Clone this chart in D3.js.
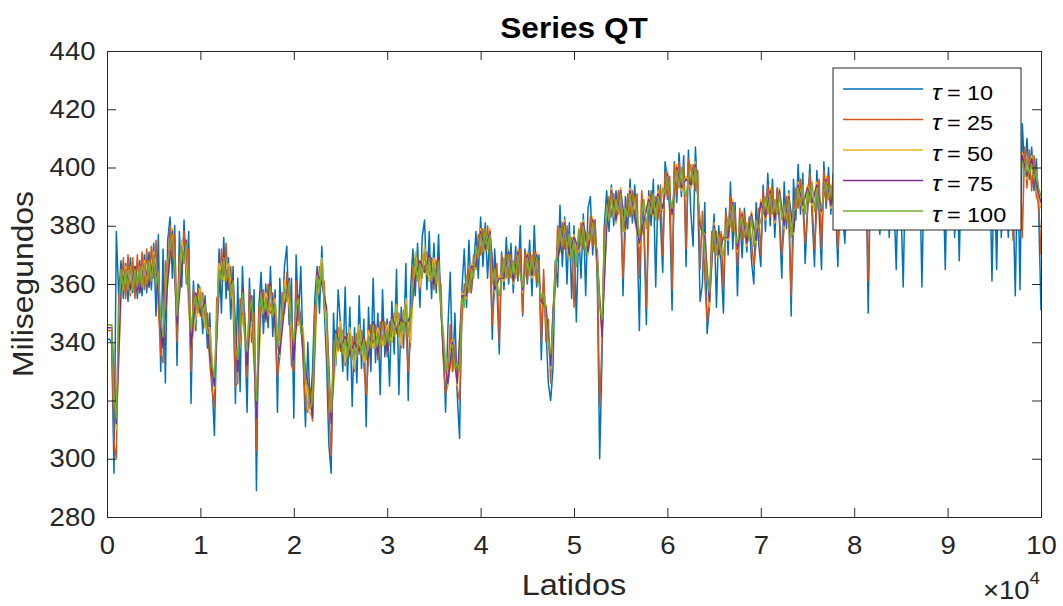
<!DOCTYPE html>
<html>
<head>
<meta charset="utf-8">
<script src="https://cdn.jsdelivr.net/npm/d3@7"></script>
<style>
  body { margin: 0; background: #fff; }
  svg { display: block; }
  text { font-family: "Liberation Sans", Arial, Helvetica, sans-serif; fill: #262626; }
</style>
</head>
<body>
<svg id="chart" width="1063" height="606"></svg>
<script>
// QT interval series (ms) per beat, smoothed with different windows tau.
// tau = 10, 25 and 100 are sampled every 250 beats, tau = 50 and 75 every 500 beats.
const fineStep = 250;
const coarseStep = 500;

const qtTau10 = [
  341,341,340,295,378,356,368,355,367,354,369,357,366,355,368,356,370,357,371,358,
  374,349,377,330,372,326,375,383,362,380,332,378,359,382,360,378,319,361,344,360,
  358,343,356,338,350,326,308,345,372,350,376,355,369,348,366,319,362,323,366,345,
  316,362,340,358,289,352,364,343,360,345,366,342,358,316,362,345,366,373,346,362,
  314,370,348,366,335,311,340,318,330,355,366,350,373,352,334,305,295,350,332,358,
  346,330,359,327,352,318,345,326,356,331,348,311,352,330,362,333,350,322,358,335,
  348,325,354,336,365,322,352,338,367,320,358,372,356,374,352,376,382,358,378,355,
  374,357,377,350,340,316,345,364,330,350,322,307,358,372,352,375,357,365,378,362,
  383,366,381,362,378,341,372,359,336,371,358,376,360,374,357,373,361,380,349,372,
  360,375,356,380,359,370,334,362,345,326,320,331,368,359,387,366,383,360,381,355,
  380,347,378,362,384,356,386,390,370,382,360,300,335,380,392,378,394,380,392,384,
  393,356,390,379,396,381,394,378,344,389,377,346,392,380,396,359,394,382,364,402,
  396,385,351,402,388,405,390,404,366,406,385,373,407,390,354,360,388,343,352,372,
  384,352,380,367,350,386,370,395,372,388,356,384,369,386,371,383,368,360,388,375,
  366,394,378,398,380,396,376,393,381,362,395,379,392,349,396,382,401,384,398,367,
  385,401,383,366,399,384,365,402,386,400,384,398,386,366,396,385,374,397,386,399,
  388,402,386,400,389,403,350,398,388,401,387,377,402,389,400,376,403,390,365,401,
  388,359,403,390,401,387,404,389,402,359,400,390,404,388,402,391,403,389,401,365,
  404,390,402,376,403,368,405,391,403,389,404,392,402,390,405,391,403,392,404,361,
  402,365,405,376,403,392,376,404,390,356,405,358,415,398,410,396,407,392,403,385,
  351
];

const qtTau25 = [
  344,344,344,305,300,356,357,369,355,370,356,369,355,370,357,371,358,372,359,373,
  362,375,352,336,333,368,362,380,369,377,340,370,365,378,366,372,330,358,348,358,
  349,357,345,350,333,324,318,355,357,372,362,374,358,366,352,325,326,355,349,350,
  328,358,346,350,303,352,349,358,347,360,350,357,344,328,335,357,350,364,352,332,
  330,361,346,350,334,318,316,324,313,352,356,366,360,361,342,318,301,340,335,345,
  337,344,332,343,335,342,330,343,336,344,332,322,334,346,338,346,334,347,339,347,
  335,347,340,350,343,350,338,351,345,330,341,366,361,369,358,370,364,371,361,369,
  358,368,360,360,334,322,326,346,330,339,324,320,347,360,355,365,357,370,365,377,
  370,379,371,380,369,346,358,367,340,370,361,370,362,370,360,370,362,372,350,371,
  361,371,362,371,361,368,340,365,340,348,326,352,358,380,371,381,372,380,369,376,
  352,374,371,381,372,378,370,383,373,382,364,318,340,380,379,390,383,391,381,392,
  383,362,378,391,383,392,382,391,362,392,381,352,380,392,383,390,382,394,370,398,
  389,397,358,401,391,402,392,401,372,403,393,401,392,399,365,385,362,347,355,378,
  371,378,369,378,358,385,375,390,378,385,366,386,375,384,373,382,375,366,374,386,
  370,392,382,394,383,393,381,392,383,370,379,390,381,356,378,393,386,396,386,374,
  385,398,387,372,386,396,372,399,388,397,386,396,388,372,386,396,380,397,388,398,
  389,399,388,400,389,400,361,399,389,401,390,399,389,400,390,401,389,400,390,401,
  388,400,390,401,389,402,390,401,391,402,389,401,390,402,391,401,390,402,391,401,
  390,402,391,401,390,402,392,401,391,402,390,401,392,402,391,403,392,402,391,403,
  392,402,391,403,392,402,391,403,375,402,391,403,376,407,393,406,392,404,390,388,
  370
];

const qtTau50 = [
  346,346,310,356,366,357,366,357,368,359,371,355,340,360,379,346,375,366,338,348,
  359,345,345,324,367,361,367,353,332,349,334,347,316,349,357,351,355,335,361,353,
  342,347,345,317,314,355,369,343,314,335,347,333,345,331,346,333,344,338,345,339,
  346,340,353,339,355,340,371,359,373,361,369,360,344,325,341,325,357,355,367,365,
  379,371,379,357,363,361,372,360,372,357,371,362,371,353,353,331,367,371,382,369,
  377,371,382,370,383,367,343,379,393,381,393,378,393,382,373,381,390,383,392,385,
  399,383,401,392,397,393,402,379,377,352,381,369,377,375,389,371,385,373,385,374,
  389,382,393,381,393,379,391,377,395,386,394,387,395,384,397,386,398,385,397,388,
  398,389,399,390,398,389,399,391,400,390,399,391,400,390,399,392,400,391,401,392,
  400,391,401,393,400,392,401,393,400,392,401,394,400,392,401,394,405,396,404,393,
  386
];

const qtTau75 = [
  345,345,312,358,365,358,366,357,367,359,370,356,338,361,378,346,366,375,338,357,
  350,354,336,325,358,370,358,362,330,358,332,356,314,358,348,360,346,336,352,362,
  334,356,336,326,314,364,360,352,312,344,338,342,336,340,337,342,335,347,336,348,
  337,349,344,348,346,349,362,368,364,370,360,369,336,326,340,326,356,356,366,366,
  378,372,378,358,362,362,371,361,371,358,370,363,370,354,352,332,366,372,381,370,
  376,372,381,371,382,368,342,380,392,382,392,379,392,383,374,382,389,384,391,386,
  398,384,400,393,396,394,401,380,376,354,380,370,376,376,388,372,384,374,384,375,
  388,383,392,382,392,380,390,378,394,387,393,388,394,385,396,387,397,386,396,389,
  397,390,398,391,397,390,398,392,399,391,398,392,399,391,398,393,399,392,400,393,
  399,392,400,394,399,393,400,394,399,393,400,395,399,393,400,395,404,397,403,394,
  388
];

const qtTau100 = [
  346,346,346,322,314,350,365,358,365,358,366,358,365,359,366,359,367,360,368,361,
  370,360,364,348,342,356,368,372,377,366,349,362,373,367,374,360,344,352,356,350,
  357,349,353,343,343,332,328,346,365,361,369,361,366,356,361,338,334,346,357,342,
  337,350,355,340,320,345,357,350,355,349,359,349,353,338,343,349,359,354,361,345,
  340,352,355,343,343,326,325,317,320,342,363,358,367,353,350,328,316,332,343,337,
  345,336,341,335,343,334,339,335,344,336,341,334,342,338,346,338,343,338,347,339,
  344,339,348,342,351,342,347,343,353,342,348,360,369,361,367,362,371,363,369,361,
  367,360,368,352,342,330,333,338,339,331,333,330,355,352,363,357,365,362,373,369,
  377,371,379,372,377,360,365,359,356,362,369,362,370,362,368,362,370,363,359,363,
  369,363,370,363,369,360,355,357,348,340,336,345,365,372,379,373,380,372,377,368,
  375,366,379,373,380,370,378,375,381,374,372,352,348,372,387,382,391,383,389,384,
  391,378,386,383,391,384,390,383,376,384,389,379,388,384,391,382,390,386,393,391,
  397,389,386,394,399,393,400,393,390,396,401,394,400,391,382,379,372,362,357,370,
  379,370,377,370,370,378,383,380,387,377,374,380,383,376,381,375,383,373,382,379,
  382,385,390,384,391,384,389,384,391,382,387,382,389,376,385,386,393,387,394,384,
  392,388,395,385,393,387,386,391,395,389,394,388,396,386,393,388,395,389,396,390,
  397,391,398,392,397,390,398,391,397,392,398,391,397,392,398,391,399,392,398,393,
  397,392,398,391,399,393,398,392,399,393,398,392,399,393,398,392,399,394,398,393,
  399,393,398,394,399,393,400,394,399,393,400,394,399,393,400,395,399,394,400,395,
  399,394,400,395,399,393,400,395,399,394,400,396,402,397,403,398,401,396,399,393,
  390
];

const seriesTaus = ["10", "25", "50", "75", "100"];
const seriesColors = ["#0072BD", "#D95319", "#EDB120", "#7E2F8E", "#77AC30"];
const seriesSteps = [fineStep, fineStep, coarseStep, coarseStep, fineStep];
const seriesValues = [qtTau10, qtTau25, qtTau50, qtTau75, qtTau100];

const xTickValues = [0, 10000, 20000, 30000, 40000, 50000, 60000, 70000, 80000, 90000, 100000];
const xTickLabels = ["0", "1", "2", "3", "4", "5", "6", "7", "8", "9", "10"];
const yTickValues = [280, 300, 320, 340, 360, 380, 400, 420, 440];

const titleText = "Series QT";
const xLabelText = "Latidos";
const yLabelText = "Milisegundos";

// Layout
const plot = { left: 107, right: 1041, top: 51, bottom: 517 };
const axisColor = "#262626";
const tickLen = 9;
const textStretch = 1.1;

const svg = d3.select("#chart");

const x = d3.scaleLinear().domain([0, 100000]).range([plot.left, plot.right]);
const y = d3.scaleLinear().domain([280, 440]).range([plot.bottom, plot.top]);

svg.append("defs").append("clipPath").attr("id", "plot-clip")
  .append("rect")
  .attr("x", plot.left).attr("y", plot.top)
  .attr("width", plot.right - plot.left).attr("height", plot.bottom - plot.top);

// Series lines, tau = 10 first so the smoother ones sit on top
const line = d3.line().x(d => x(d[0])).y(d => y(d[1]));
const linesG = svg.append("g").attr("clip-path", "url(#plot-clip)");
seriesValues.forEach((vals, k) => {
  const pts = vals.map((v, i) => [i * seriesSteps[k], v]);
  linesG.append("path")
    .datum(pts)
    .attr("d", line)
    .attr("fill", "none")
    .attr("stroke", seriesColors[k])
    .attr("stroke-width", 1.5)
    .attr("stroke-linejoin", "round");
});

// Axes with inward ticks on all four sides
function styleAxis(g) {
  g.selectAll("path.domain").attr("stroke", axisColor).attr("stroke-width", 1);
  g.selectAll(".tick line").attr("stroke", axisColor);
  g.selectAll(".tick text").attr("fill", axisColor).attr("font-family", null);
}

svg.append("g")
  .attr("transform", `translate(0,${plot.bottom})`)
  .call(d3.axisBottom(x).tickValues(xTickValues)
    .tickFormat((d, i) => xTickLabels[i])
    .tickSizeInner(-tickLen).tickSizeOuter(0).tickPadding(19))
  .call(styleAxis)
  .call(g => g.selectAll(".tick text").attr("font-size", 25)
    .attr("transform", `scale(${textStretch},1)`));

svg.append("g")
  .attr("transform", `translate(0,${plot.top})`)
  .call(d3.axisTop(x).tickValues(xTickValues).tickFormat("")
    .tickSizeInner(-tickLen).tickSizeOuter(0))
  .call(styleAxis);

svg.append("g")
  .attr("transform", `translate(${plot.left},0)`)
  .call(d3.axisLeft(y).tickValues(yTickValues)
    .tickSizeInner(-tickLen).tickSizeOuter(0).tickPadding(10.5))
  .call(styleAxis)
  .call(g => g.selectAll(".tick text").attr("font-size", 25)
    .attr("transform", `scale(${textStretch},1)`));

svg.append("g")
  .attr("transform", `translate(${plot.right},0)`)
  .call(d3.axisRight(y).tickValues(yTickValues).tickFormat("")
    .tickSizeInner(-tickLen).tickSizeOuter(0))
  .call(styleAxis);

// Text placed at (px, py) and widened along its own direction
function stretchedText(parent, px, py, sx, rotate) {
  const rot = rotate ? ` rotate(${rotate})` : "";
  return parent.append("text")
    .attr("transform", `translate(${px},${py})${rot} scale(${sx},1)`);
}

// Exponent of the x axis
const expo = stretchedText(svg, 1040, 599, textStretch)
  .attr("text-anchor", "end")
  .attr("font-size", 25);
expo.append("tspan").text("×10");
expo.append("tspan").attr("font-size", 17).attr("dy", -15).text("4");

// Titles
stretchedText(svg, (plot.left + plot.right) / 2, 37.5, 1.09)
  .attr("text-anchor", "middle")
  .attr("font-size", 29).attr("font-weight", "bold")
  .style("fill", "#000")
  .text(titleText);

stretchedText(svg, (plot.left + plot.right) / 2, 595, 1.12)
  .attr("text-anchor", "middle")
  .attr("font-size", 29)
  .text(xLabelText);

stretchedText(svg, 33, (plot.top + plot.bottom) / 2, 1.1, -90)
  .attr("text-anchor", "middle")
  .attr("font-size", 29)
  .text(yLabelText);

// Legend
const legend = { x: 833, y: 68, w: 188, h: 162, firstRow: 89, rowGap: 30.5, baseline: 10.5 };
const lg = svg.append("g");
lg.append("rect")
  .attr("x", legend.x).attr("y", legend.y)
  .attr("width", legend.w).attr("height", legend.h)
  .attr("fill", "#fff").attr("stroke", axisColor).attr("stroke-width", 1);

seriesTaus.forEach((t, k) => {
  const ry = legend.firstRow + k * legend.rowGap;
  const by = ry + legend.baseline;
  lg.append("line")
    .attr("x1", 843).attr("x2", 923)
    .attr("y1", ry).attr("y2", ry)
    .attr("stroke", seriesColors[k]).attr("stroke-width", 1.5);
  stretchedText(lg, 932, by, 1.1)
    .attr("font-family", "'Liberation Serif', 'DejaVu Serif', serif")
    .attr("font-style", "italic")
    .attr("font-size", 23)
    .style("fill", "#000")
    .text("τ");
  stretchedText(lg, 947, by, 1.12)
    .attr("font-size", 21)
    .style("fill", "#000")
    .text("=");
  stretchedText(lg, 967, by, 1.12)
    .attr("font-size", 21)
    .style("fill", "#000")
    .text(t);
});
</script>
</body>
</html>
